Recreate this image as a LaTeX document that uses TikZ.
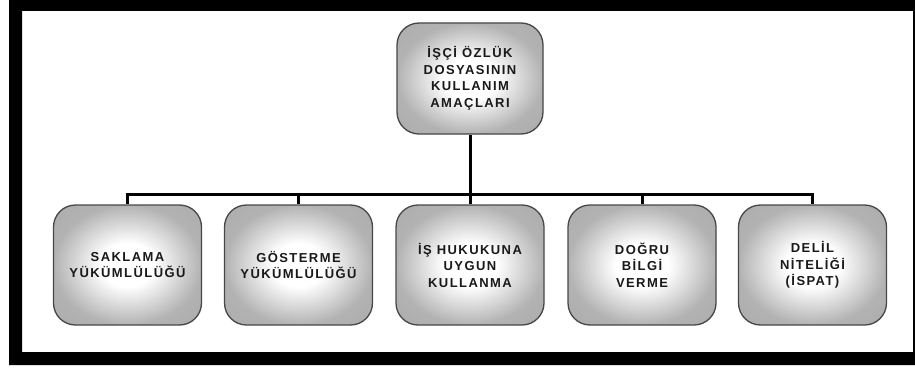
\documentclass[tikz,border=0pt]{standalone}
\usepackage{fontspec}
\newfontfamily\boxfont[LetterSpace=11]{Liberation Sans}
\pgfdeclareradialshading{boxshade}{\pgfpoint{0bp}{0bp}}{color(0bp)=(white); color(9bp)=(white); color(25bp)=(black!30); color(50bp)=(black!36)}
\begin{document}
\begin{tikzpicture}[x=1pt,y=-1pt,
  orgbox/.style={draw=black!72,line width=1.3pt,rounded corners=22pt,
    shading=boxshade,
    minimum width=148pt,minimum height=120pt,align=center,text=black!90,
    font=\boxfont\bfseries\fontsize{13}{16.5}\selectfont},
  conn/.style={draw=black,line width=3pt}]
\useasboundingbox (0,0) rectangle (915,369);
% frame
\fill[black,even odd rule] (9,-5) rectangle (925,365) (22,11) rectangle (913,352);
% boxes
\node[orgbox,minimum width=146pt,minimum height=111pt] (top) at (470,78.5) {İŞÇİ ÖZLÜK\\DOSYASININ\\KULLANIM\\AMAÇLARI};
\node[orgbox] (c1) at (127.5,265) {SAKLAMA\\YÜKÜMLÜLÜĞÜ};
\node[orgbox] (c2) at (298.5,265) {GÖSTERME\\YÜKÜMLÜLÜĞÜ};
\node[orgbox] (c3) at (470,265) {İŞ HUKUKUNA\\UYGUN\\KULLANMA};
\node[orgbox] (c4) at (642,265) {DOĞRU\\BİLGİ\\VERME};
\node[orgbox] (c5) at (812.5,265) {DELİL\\NİTELİĞİ\\(İSPAT)};
\coordinate (bus) at (470,194);
\draw[conn] (top.south) -- (bus);
\foreach \c in {c1,c2,c3,c4,c5} \draw[conn] (bus) -| (\c.north);
\end{tikzpicture}
\end{document}
